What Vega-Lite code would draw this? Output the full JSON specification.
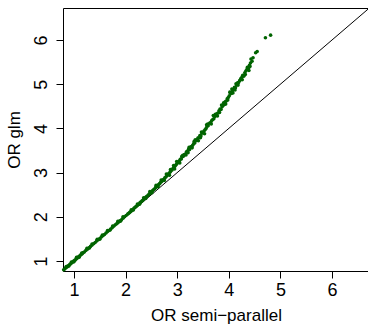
{
  "$schema": "https://vega.github.io/schema/vega-lite/v6.json",
  "width": 306,
  "height": 263,
  "autosize": "none",
  "padding": {"left": 63, "top": 8, "right": 0, "bottom": 54},
  "config": {
    "font": "Liberation Sans",
    "view": {"stroke": "#000", "strokeWidth": 1},
    "axis": {
      "grid": false, "domain": false, "tickColor": "#000", "tickSize": 7, "tickWidth": 1,
      "labelColor": "#000", "labelFontSize": 18, "labelFont": "Liberation Sans", "labelFlush": false,
      "titleColor": "#000", "titleFontSize": 17, "titleFontWeight": "normal", "titleFont": "Liberation Sans"
    }
  },
  "encoding": {
    "x": {"field": "x", "type": "quantitative",
      "scale": {"domain": [0.787, 6.717], "nice": false, "zero": false},
      "axis": {"values": [1, 2, 3, 4, 5, 6], "title": "OR semi−parallel", "labelBaseline": "alphabetic", "labelPadding": 17,
        "titleX": 153, "titleY": 49.5, "titleBaseline": "alphabetic", "titleAlign": "center"}},
    "y": {"field": "y", "type": "quantitative",
      "scale": {"domain": [0.774, 6.724], "nice": false, "zero": false},
      "axis": {"values": [1, 2, 3, 4, 5, 6], "title": "OR glm", "labelAngle": -90, "labelAlign": "center", "labelBaseline": "alphabetic", "labelPadding": 10,
        "titleAngle": -90, "titleX": -44, "titleY": 131.5, "titleBaseline": "alphabetic", "titleAlign": "center"}}
  },
  "layer": [
    {
      "data": {"values": [{"x": 0.7, "y": 0.7}, {"x": 6.9, "y": 6.9}]},
      "mark": {"type": "line", "color": "#000", "strokeWidth": 1, "clip": true}
    },
    {
      "data": {"values": [
        {"x":0.80,"y":0.80},{"x":0.82,"y":0.82},{"x":0.84,"y":0.845},{"x":0.86,"y":0.86},{"x":0.88,"y":0.885},{"x":0.90,"y":0.90},
        {"x":0.92,"y":0.925},{"x":0.94,"y":0.94},{"x":0.96,"y":0.965},{"x":0.98,"y":0.98},{"x":1.00,"y":1.005},{"x":1.02,"y":1.02},
        {"x":1.04,"y":1.045},{"x":1.06,"y":1.06},{"x":1.08,"y":1.09},{"x":1.10,"y":1.10},{"x":1.12,"y":1.13},{"x":1.14,"y":1.145},
        {"x":1.16,"y":1.165},{"x":1.18,"y":1.19},{"x":1.20,"y":1.205},{"x":1.23,"y":1.24},{"x":1.26,"y":1.265},{"x":1.29,"y":1.30},
        {"x":1.32,"y":1.33},{"x":1.35,"y":1.36},{"x":1.38,"y":1.39},{"x":1.41,"y":1.42},{"x":1.44,"y":1.455},{"x":1.47,"y":1.48},
        {"x":1.50,"y":1.51},{"x":1.53,"y":1.545},{"x":1.56,"y":1.57},{"x":1.59,"y":1.60},{"x":1.62,"y":1.635},{"x":1.65,"y":1.665},
        {"x":1.68,"y":1.69},{"x":1.71,"y":1.725},{"x":1.74,"y":1.755},{"x":1.77,"y":1.785},{"x":1.80,"y":1.82},{"x":1.83,"y":1.845},
        {"x":1.86,"y":1.875},{"x":1.89,"y":1.91},{"x":1.92,"y":1.935},{"x":1.95,"y":1.97},{"x":1.98,"y":2.00},{"x":2.01,"y":2.03},
        {"x":0.85,"y":0.875},{"x":0.95,"y":0.975},{"x":1.05,"y":1.085},{"x":1.15,"y":1.18},{"x":1.25,"y":1.285},{"x":1.35,"y":1.385},
        {"x":1.45,"y":1.49},{"x":1.55,"y":1.59},{"x":1.65,"y":1.69},{"x":1.75,"y":1.79},{"x":1.85,"y":1.90},{"x":1.95,"y":2.00},
        {"x":0.9,"y":0.885},{"x":1.0,"y":0.985},{"x":1.1,"y":1.085},{"x":1.3,"y":1.295},{"x":1.5,"y":1.495},{"x":1.7,"y":1.70},{"x":1.9,"y":1.90},
        {"x":2.04,"y":2.06},{"x":2.06,"y":2.08},{"x":2.08,"y":2.10},{"x":2.10,"y":2.12},{"x":2.12,"y":2.14},{"x":2.14,"y":2.16},
        {"x":2.16,"y":2.19},{"x":2.18,"y":2.21},{"x":2.20,"y":2.23},{"x":2.22,"y":2.25},{"x":2.24,"y":2.27},{"x":2.26,"y":2.29},
        {"x":2.28,"y":2.32},{"x":2.30,"y":2.34},{"x":2.32,"y":2.36},{"x":2.34,"y":2.38},{"x":2.36,"y":2.41},{"x":2.38,"y":2.43},
        {"x":2.40,"y":2.45},{"x":2.42,"y":2.47},{"x":2.44,"y":2.49},{"x":2.46,"y":2.52},{"x":2.48,"y":2.54},{"x":2.50,"y":2.56},
        {"x":2.52,"y":2.59},{"x":2.54,"y":2.61},{"x":2.56,"y":2.63},{"x":2.58,"y":2.66},{"x":2.60,"y":2.68},{"x":2.62,"y":2.70},
        {"x":2.64,"y":2.73},{"x":2.66,"y":2.75},{"x":2.68,"y":2.78},{"x":2.70,"y":2.80},{"x":2.72,"y":2.83},{"x":2.74,"y":2.85},
        {"x":2.76,"y":2.88},{"x":2.78,"y":2.90},{"x":2.80,"y":2.93},{"x":2.82,"y":2.96},{"x":2.84,"y":2.98},{"x":2.86,"y":3.01},
        {"x":2.88,"y":3.04},{"x":2.90,"y":3.06},{"x":2.92,"y":3.10},{"x":2.94,"y":3.12},{"x":2.96,"y":3.15},{"x":2.98,"y":3.18},
        {"x":3.00,"y":3.21},
        {"x":2.11,"y":2.16},{"x":2.23,"y":2.29},{"x":2.35,"y":2.43},{"x":2.47,"y":2.57},{"x":2.59,"y":2.71},{"x":2.69,"y":2.83},
        {"x":2.79,"y":2.97},{"x":2.87,"y":3.07},{"x":2.93,"y":3.16},{"x":2.99,"y":3.25},
        {"x":2.15,"y":2.155},{"x":2.27,"y":2.285},{"x":2.39,"y":2.415},{"x":2.51,"y":2.545},{"x":2.63,"y":2.68},{"x":2.75,"y":2.82},
        {"x":2.85,"y":2.94},{"x":2.95,"y":3.08},
        {"x":3.02,"y":3.24},{"x":3.04,"y":3.26},{"x":3.06,"y":3.30},{"x":3.08,"y":3.31},{"x":3.10,"y":3.36},{"x":3.12,"y":3.37},
        {"x":3.14,"y":3.41},{"x":3.16,"y":3.42},{"x":3.18,"y":3.47},{"x":3.20,"y":3.48},{"x":3.22,"y":3.53},{"x":3.24,"y":3.52},
        {"x":3.26,"y":3.58},{"x":3.28,"y":3.59},{"x":3.30,"y":3.62},{"x":3.32,"y":3.66},{"x":3.34,"y":3.67},{"x":3.36,"y":3.72},
        {"x":3.38,"y":3.73},{"x":3.40,"y":3.78},{"x":3.42,"y":3.79},{"x":3.44,"y":3.84},{"x":3.46,"y":3.83},{"x":3.48,"y":3.89},
        {"x":3.50,"y":3.91},{"x":3.52,"y":3.94},{"x":3.54,"y":3.97},{"x":3.56,"y":4.00},{"x":3.58,"y":4.05},{"x":3.60,"y":4.06},
        {"x":3.05,"y":3.22},{"x":3.11,"y":3.39},{"x":3.17,"y":3.40},{"x":3.23,"y":3.57},{"x":3.29,"y":3.56},{"x":3.35,"y":3.74},
        {"x":3.41,"y":3.72},{"x":3.47,"y":3.92},{"x":3.53,"y":3.88},{"x":3.59,"y":4.10},
        {"x":3.09,"y":3.37},{"x":3.21,"y":3.45},{"x":3.33,"y":3.71},{"x":3.45,"y":3.79},{"x":3.57,"y":4.08},
        {"x":3.63,"y":4.12},{"x":3.65,"y":4.13},{"x":3.67,"y":4.18},{"x":3.69,"y":4.20},{"x":3.71,"y":4.22},{"x":3.73,"y":4.27},
        {"x":3.75,"y":4.30},{"x":3.77,"y":4.33},{"x":3.79,"y":4.35},{"x":3.81,"y":4.40},{"x":3.83,"y":4.44},{"x":3.85,"y":4.43},
        {"x":3.87,"y":4.49},{"x":3.89,"y":4.52},{"x":3.91,"y":4.54},{"x":3.93,"y":4.60},{"x":3.95,"y":4.62},{"x":3.97,"y":4.67},
        {"x":3.99,"y":4.70},{"x":4.01,"y":4.74},{"x":4.03,"y":4.80},{"x":4.05,"y":4.79},{"x":4.07,"y":4.85},{"x":4.09,"y":4.88},
        {"x":4.11,"y":4.93},{"x":4.13,"y":4.92},{"x":4.15,"y":4.98},{"x":4.17,"y":5.03},{"x":4.19,"y":5.04},{"x":4.21,"y":5.08},
        {"x":3.70,"y":4.29},{"x":3.78,"y":4.28},{"x":3.86,"y":4.53},{"x":3.94,"y":4.55},{"x":4.02,"y":4.82},{"x":4.08,"y":4.80},
        {"x":4.14,"y":5.01},{"x":4.18,"y":4.98},{"x":3.66,"y":4.10},{"x":3.74,"y":4.32},{"x":3.82,"y":4.36},{"x":3.90,"y":4.58},
        {"x":3.98,"y":4.64},{"x":4.06,"y":4.89},{"x":4.12,"y":4.87},
        {"x":4.23,"y":5.12},{"x":4.25,"y":5.15},{"x":4.27,"y":5.20},{"x":4.29,"y":5.18},{"x":4.31,"y":5.26},{"x":4.33,"y":5.30},
        {"x":4.35,"y":5.33},{"x":4.36,"y":5.38},{"x":4.38,"y":5.36},{"x":4.40,"y":5.43},{"x":4.42,"y":5.48},{"x":4.43,"y":5.57},
        {"x":4.45,"y":5.52},{"x":4.47,"y":5.60},{"x":4.52,"y":5.71},{"x":4.55,"y":5.74},{"x":4.71,"y":6.05},{"x":4.81,"y":6.11},
        {"x":4.26,"y":5.10},{"x":4.32,"y":5.22},{"x":4.39,"y":5.31},{"x":4.41,"y":5.40}
      ]},
      "mark": {"type": "circle", "color": "#006400", "size": 13, "opacity": 1}
    }
  ]
}
